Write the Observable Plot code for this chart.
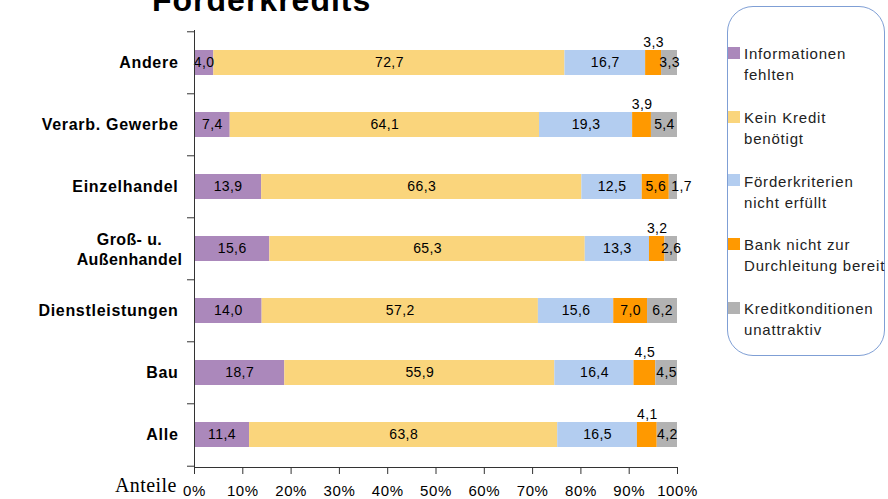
<!DOCTYPE html>
<html>
<head>
<meta charset="utf-8">
<script src="https://cdn.jsdelivr.net/npm/d3@7"></script>
<script src="https://cdn.jsdelivr.net/npm/@observablehq/plot@0.6"></script>
<style>
  html, body { margin: 0; padding: 0; background: #fff; }
  #wrap { position: relative; width: 888px; height: 499px; overflow: hidden; font-family: "Liberation Sans", Arial, sans-serif; }
  #chart { position: absolute; left: 0; top: 0; }
  #title { position: absolute; left: 152px; top: -16px; font-size: 32px; line-height: 32px; font-weight: bold; letter-spacing: 1px; color: #000; white-space: nowrap; }
  #anteile { position: absolute; left: 115px; top: 474px; font-family: "Liberation Serif", "Times New Roman", serif; font-size: 20px; line-height: 22px; letter-spacing: 0.4px; color: #000; }
  #legend { position: absolute; left: 727px; top: 6px; width: 158px; height: 350px; border: 1px solid #7f9fd5; border-radius: 26px; box-sizing: border-box; }
  .item { position: absolute; left: 744px; font-size: 15px; line-height: 21px; letter-spacing: 0.8px; color: #222; white-space: nowrap; }
  .sw { position: absolute; left: 728px; width: 12px; height: 12px; }
  [aria-label="y-axis tick label"] { letter-spacing: 0.7px; }
  [aria-label="x-axis tick label"] { letter-spacing: 0.6px; }
  .seglabel, .catlabel { letter-spacing: 0.4px; }
</style>
</head>
<body>
<div id="wrap">
  <div id="chart"></div>
  <div id="title"></div>
  <div id="anteile"></div>
  <div id="legend"></div>
</div>
<script>
// ---- data ----
const titleText = "Förderkredits";
const axisNote = "Anteile";
const categories = ["Andere", "Verarb. Gewerbe", "Einzelhandel", "Groß- u. Außenhandel", "Dienstleistungen", "Bau", "Alle"];
const categoryLabels = ["Andere", "Verarb. Gewerbe", "Einzelhandel", "Groß- u.\nAußenhandel", "Dienstleistungen", "Bau", "Alle"];
const series = ["Informationen fehlten", "Kein Kredit benötigt", "Förderkriterien nicht erfüllt", "Bank nicht zur Durchleitung bereit", "Kreditkonditionen unattraktiv"];
const legendLines = [["Informationen", "fehlten"], ["Kein Kredit", "benötigt"], ["Förderkriterien", "nicht erfüllt"], ["Bank nicht zur", "Durchleitung bereit"], ["Kreditkonditionen", "unattraktiv"]];
const informationenFehlten = [4.0, 7.4, 13.9, 15.6, 14.0, 18.7, 11.4];
const keinKreditBenoetigt = [72.7, 64.1, 66.3, 65.3, 57.2, 55.9, 63.8];
const kriterienNichtErfuellt = [16.7, 19.3, 12.5, 13.3, 15.6, 16.4, 16.5];
const bankNichtBereit = [3.3, 3.9, 5.6, 3.2, 7.0, 4.5, 4.1];
const konditionenUnattraktiv = [3.3, 5.4, 1.7, 2.6, 6.2, 4.5, 4.2];
const xTicks = [0, 0.1, 0.2, 0.3, 0.4, 0.5, 0.6, 0.7, 0.8, 0.9, 1.0];
const colors = ["#ab88bb", "#fad57c", "#b3cdf0", "#ff9900", "#b2b2b2"];

const valueArrays = [informationenFehlten, keinKreditBenoetigt, kriterienNichtErfuellt, bankNichtBereit, konditionenUnattraktiv];
const data = [];
series.forEach((s, si) => categories.forEach((c, ci) => data.push({series: s, si, cat: c, value: valueArrays[si][ci]})));
const fmt = v => v.toFixed(1).replace(".", ",");
const above = d => d.si === 3 && d.value < 5;   // small orange: label above the bar
const outside = d => d.si === 4 && d.value < 2;  // tiny grey: label starts at segment
const labelOf = c => categoryLabels[categories.indexOf(c)];
const twoLine = categories.filter(c => labelOf(c).includes("\n"));

const W = 888, H = 499, mL = 194, mR = 211, mT = 30, mB = 32;
const step = (H - mT - mB) / categories.length;
const tickLen = 7 / (W - mL - mR);

const stackOpts = (text) => Plot.stackX({x: "value", y: "cat", z: "series", offset: "normalize", text});
const outsideStack = stackOpts(d => outside(d) ? fmt(d.value) : null);

const chart = Plot.plot({
  width: W, height: H,
  marginLeft: mL, marginRight: mR, marginTop: mT, marginBottom: mB,
  style: {fontFamily: "'Liberation Sans', Arial, sans-serif", fontSize: "14px", color: "#000", background: "transparent"},
  x: {domain: [0, 1]},
  y: {domain: categories, paddingInner: 0.6, paddingOuter: 0.3},
  color: {domain: series, range: colors},
  marks: [
    Plot.barX(data, Plot.stackX({x: "value", y: "cat", fill: "series", offset: "normalize"})),
    Plot.text(data, {...stackOpts(d => (above(d) || outside(d)) ? null : fmt(d.value)), fill: "#000", fontSize: 14, className: "seglabel"}),
    Plot.text(data, {...stackOpts(d => above(d) ? fmt(d.value) : null), fill: "#000", fontSize: 14, dy: -20, className: "seglabel"}),
    Plot.text(data, {...outsideStack, x: outsideStack.x1, textAnchor: "start", dx: 2, fill: "#000", fontSize: 14, className: "seglabel"}),
    Plot.ruleX([0], {stroke: "#333"}),
    Plot.frame({anchor: "bottom", stroke: "#333"}),
    Plot.ruleY(categories, {y: d => d, dy: -step / 2, x1: -tickLen, x2: 0, stroke: "#333"}),
    Plot.ruleY(categories.slice(-1), {y: d => d, dy: step / 2, x1: -tickLen, x2: 0, stroke: "#333"}),
    Plot.axisX({ticks: xTicks, tickFormat: d => Math.round(d * 100) + "%", tickSize: 7, tickPadding: 11, fontSize: 15, label: null, stroke: "#333", fill: "#000"}),
    Plot.axisY({tickSize: 0, tickPadding: 16, tickFormat: d => labelOf(d).includes("\n") ? "" : labelOf(d), fontWeight: "bold", fontSize: 16, label: null, fill: "#000"}),
    Plot.text(twoLine, {y: d => d, frameAnchor: "left", dx: -65, textAnchor: "middle", text: d => labelOf(d), fontWeight: "bold", fontSize: 16, lineHeight: 1.25, fill: "#000", className: "catlabel"})
  ]
});
document.getElementById("chart").appendChild(chart);
document.getElementById("title").textContent = titleText;
document.getElementById("anteile").textContent = axisNote;

const wrap = document.getElementById("wrap");
legendLines.forEach((lines, i) => {
  const top = 47 + i * 63.7;
  const sw = document.createElement("div");
  sw.className = "sw";
  sw.style.top = top + "px";
  sw.style.background = colors[i];
  wrap.appendChild(sw);
  const t = document.createElement("div");
  t.className = "item";
  t.style.top = (top - 3.7) + "px";
  t.innerHTML = lines.join("<br>");
  wrap.appendChild(t);
});
</script>
</body>
</html>
